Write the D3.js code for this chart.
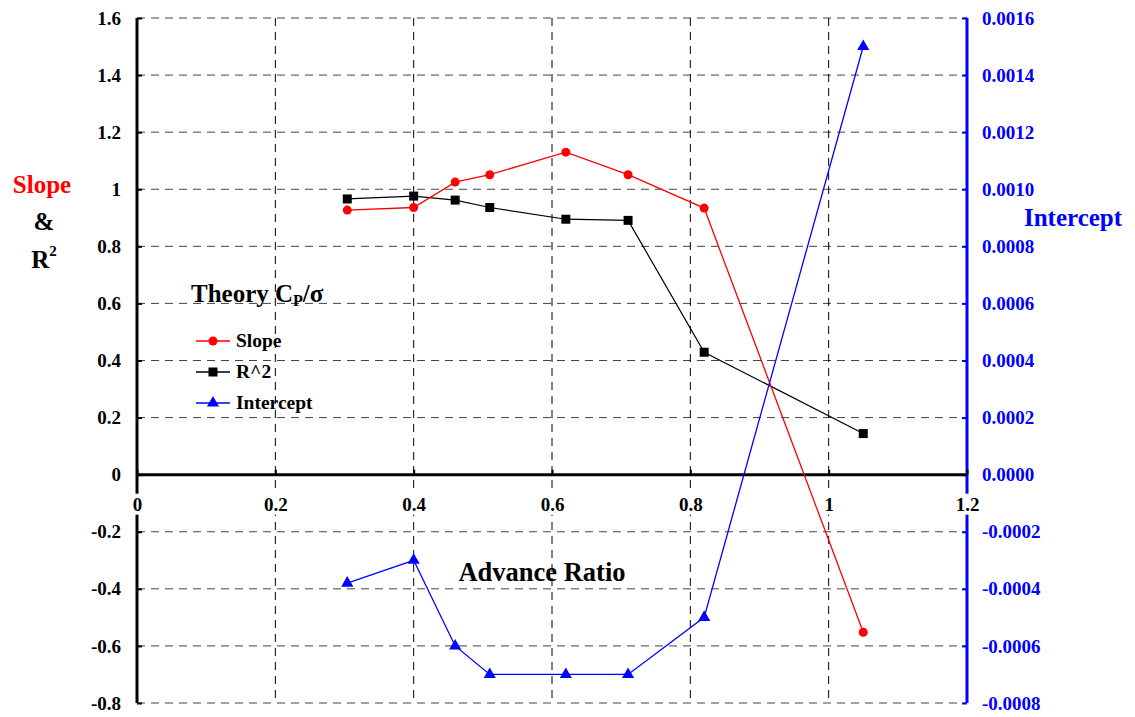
<!DOCTYPE html>
<html><head><meta charset="utf-8">
<script src="https://cdn.jsdelivr.net/npm/d3@7"></script>
<style>body{margin:0;background:#fff}svg{display:block}svg text{font-family:"Liberation Serif","Times New Roman",serif !important;font-weight:bold}</style>
</head><body><svg id="c" width="1135" height="717"></svg>
<script>
const advanceRatio = [0.304, 0.40, 0.46, 0.51, 0.62, 0.71, 0.82, 1.05];
const slope = [0.927, 0.936, 1.025, 1.051, 1.13, 1.051, 0.934, -0.552];
const rSquared = [0.966, 0.976, 0.962, 0.936, 0.895, 0.891, 0.429, 0.144];
const intercept = [-0.00038, -0.0003, -0.0006, -0.0007, -0.0007, -0.0007, -0.0005, 0.0015];
const xTicks = [0, 0.2, 0.4, 0.6, 0.8, 1, 1.2];
const yLeftTicks = [-0.8, -0.6, -0.4, -0.2, 0, 0.2, 0.4, 0.6, 0.8, 1, 1.2, 1.4, 1.6];
const yRightTicks = [-0.0008, -0.0006, -0.0004, -0.0002, 0, 0.0002, 0.0004, 0.0006, 0.0008, 0.0010, 0.0012, 0.0014, 0.0016];

const svg = d3.select("#c");
const L = 137, R = 967, T = 18, B = 703;
const x = d3.scaleLinear().domain([0, 1.2]).range([L, R]);
const yL = d3.scaleLinear().domain([-0.8, 1.6]).range([B, T]);
const yR = d3.scaleLinear().domain([-0.0008, 0.0016]).range([B, T]);
const fmtShort = d => String(+(+d).toFixed(1));
const fmtRight = d => (+d).toFixed(4).replace("−", "-");
const FONT = "'Liberation Serif', 'Times New Roman', serif";

// grid
const grid = svg.append("g");
yLeftTicks.filter(v => v !== 0).forEach(v => grid.append("line").attr("x1", L).attr("x2", R).attr("y1", yL(v)).attr("y2", yL(v))
  .attr("stroke", "#444").attr("stroke-width", 1).attr("stroke-dasharray", "8,6"));
xTicks.filter(v => v > 0 && v < 1.2).forEach(v => grid.append("line").attr("x1", x(v)).attr("x2", x(v)).attr("y1", T).attr("y2", B)
  .attr("stroke", "#000").attr("stroke-width", 1).attr("stroke-dasharray", "8,6"));

function styleText(sel, color) {
  sel.style("font-family", FONT).style("font-weight", "bold").attr("font-size", 19).attr("fill", color);
}

// left axis
const gl = svg.append("g").attr("transform", `translate(${L},0)`)
  .call(d3.axisLeft(yL).tickValues(yLeftTicks).tickSize(-5).tickPadding(16).tickFormat(fmtShort));
gl.attr("font-family", null);
gl.select(".domain").attr("stroke", "#000").attr("stroke-width", 3).attr("d", `M0,${T}V${B}`);
gl.selectAll(".tick line").attr("stroke", "#000").attr("stroke-width", 2);
styleText(gl.selectAll(".tick text"), "#000");

// right axis
const gr = svg.append("g").attr("transform", `translate(${R},0)`)
  .call(d3.axisRight(yR).tickValues(yRightTicks).tickSize(-5).tickPadding(15).tickFormat(fmtRight));
gr.attr("font-family", null);
gr.select(".domain").attr("stroke", "#0000ff").attr("stroke-width", 3).attr("d", `M0,${T}V${B}`);
gr.selectAll(".tick line").attr("stroke", "#0000ff").attr("stroke-width", 2);
styleText(gr.selectAll(".tick text"), "#0000ff");

// x axis at y=0
const gx = svg.append("g").attr("transform", `translate(0,${yL(0)})`)
  .call(d3.axisTop(x).tickValues(xTicks).tickSize(5).tickFormat(fmtShort));
gx.attr("font-family", null);
gx.select(".domain").attr("stroke", "#000").attr("stroke-width", 3).attr("d", `M${L},0H${R}`);
gx.selectAll(".tick line").attr("stroke", "#000").attr("stroke-width", 2);
gx.selectAll(".tick text").remove();
gx.selectAll(".tick").each(function(d) {
  const g = d3.select(this);
  const t = g.append("text").attr("y", 36).attr("text-anchor", "middle").text(fmtShort(d));
  styleText(t, "#000");
  const bb = t.node().getBBox();
  g.insert("rect", "text").attr("x", bb.x - 2).attr("y", bb.y).attr("width", bb.width + 4).attr("height", bb.height).attr("fill", "#fff");
});

// series
const ptsSlope = advanceRatio.map((a, i) => [x(a), yL(slope[i])]);
const ptsR2 = advanceRatio.map((a, i) => [x(a), yL(rSquared[i])]);
const ptsInt = advanceRatio.map((a, i) => [x(a), yR(intercept[i])]);
const line = d3.line();
const tri = d3.symbol().type(d3.symbolTriangle).size(64);

svg.append("path").attr("d", line(ptsR2)).attr("fill", "none").attr("stroke", "#000").attr("stroke-width", 1.2);
svg.selectAll(".sq").data(ptsR2).enter().append("rect").attr("x", d => d[0] - 4.5).attr("y", d => d[1] - 4.5)
  .attr("width", 9).attr("height", 9).attr("fill", "#000");

svg.append("path").attr("d", line(ptsSlope)).attr("fill", "none").attr("stroke", "#ff0000").attr("stroke-width", 1.3);
svg.selectAll(".ci").data(ptsSlope).enter().append("circle").attr("cx", d => d[0]).attr("cy", d => d[1]).attr("r", 4.5).attr("fill", "#ff0000");

svg.append("path").attr("d", line(ptsInt)).attr("fill", "none").attr("stroke", "#0000ff").attr("stroke-width", 1.3);
svg.selectAll(".tr").data(ptsInt).enter().append("path").attr("d", tri).attr("transform", d => `translate(${d[0]},${d[1]})`).attr("fill", "#0000ff");

// axis titles
function title(xp, yp, size, color, txt) {
  return svg.append("text").attr("x", xp).attr("y", yp).attr("text-anchor", "middle").attr("font-size", size)
    .style("font-family", FONT).style("font-weight", "bold").attr("fill", color).text(txt);
}
title(42, 193, 25, "#ff0000", "Slope");
title(44, 230, 25, "#000", "&");
const r2 = title(44, 268, 25, "#000", "");
r2.append("tspan").text("R");
r2.append("tspan").attr("font-size", 15).attr("dy", -12).text("2");
title(1073, 226, 25, "#0000ff", "Intercept");
title(542, 581, 26.5, "#000", "Advance Ratio");

// legend
const lt = svg.append("text").attr("x", 191).attr("y", 302).attr("font-size", 25)
  .style("font-family", FONT).style("font-weight", "bold").attr("fill", "#000");
lt.append("tspan").text("Theory C");
lt.append("tspan").attr("font-size", 16).attr("dy", 4).text("P");
lt.append("tspan").attr("dy", -4).text("/σ");

const leg = [
  {name: "Slope", color: "#ff0000", y: 341, m: "c"},
  {name: "R^2", color: "#000", y: 372, m: "s"},
  {name: "Intercept", color: "#0000ff", y: 403, m: "t"}
];
leg.forEach(l => {
  svg.append("line").attr("x1", 196).attr("x2", 230).attr("y1", l.y).attr("y2", l.y).attr("stroke", l.color).attr("stroke-width", 1.3);
  if (l.m === "c") svg.append("circle").attr("cx", 213).attr("cy", l.y).attr("r", 4.5).attr("fill", l.color);
  if (l.m === "s") svg.append("rect").attr("x", 208.5).attr("y", l.y - 4.5).attr("width", 9).attr("height", 9).attr("fill", l.color);
  if (l.m === "t") svg.append("path").attr("d", tri).attr("transform", `translate(213,${l.y})`).attr("fill", l.color);
  svg.append("text").attr("x", 236).attr("y", l.y + 6).attr("font-size", 19.5)
    .style("font-family", FONT).style("font-weight", "bold").attr("fill", "#000").text(l.name);
});
</script></body></html>
